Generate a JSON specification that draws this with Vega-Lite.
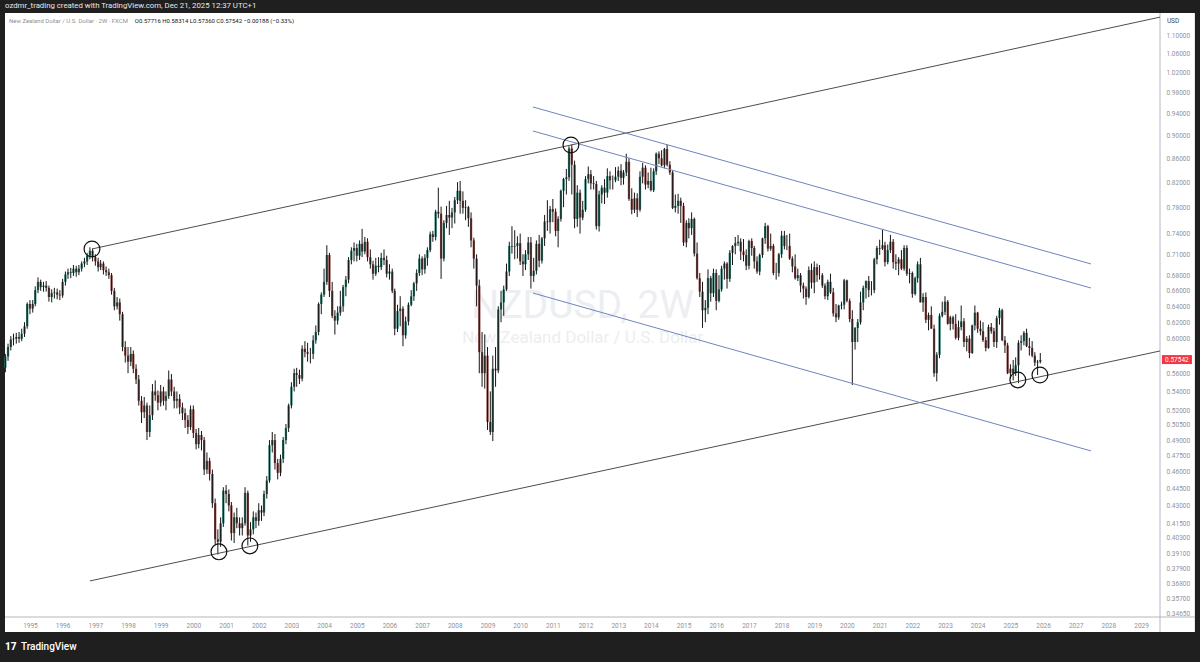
{
"$schema":"https://vega.github.io/schema/vega-lite/v6.json",
"width":1155,"height":604,
"autosize":{"type":"none"},
"padding":{"left":5,"top":13,"right":40,"bottom":45},
"background":"#1f1f1f",
"config":{"view":{"stroke":null},"font":"Roboto","axis":{"grid":false,"ticks":false,"labelFont":"Roboto","labelFontSize":6.5,"labelColor":"#8f929a","domain":false,"labelOverlap":false,"labelFlush":false}},
"datasets":{
"c":[
{"d":"1994-04","o":0.566,"h":0.582,"l":0.561,"c":0.579},
{"d":"1994-05","o":0.579,"h":0.594,"l":0.574,"c":0.590},
{"d":"1994-06","o":0.590,"h":0.603,"l":0.586,"c":0.599},
{"d":"1994-07","o":0.599,"h":0.606,"l":0.592,"c":0.600},
{"d":"1994-08","o":0.600,"h":0.607,"l":0.594,"c":0.602},
{"d":"1994-09","o":0.602,"h":0.608,"l":0.595,"c":0.600},
{"d":"1994-10","o":0.600,"h":0.612,"l":0.597,"c":0.606},
{"d":"1994-11","o":0.606,"h":0.620,"l":0.602,"c":0.615},
{"d":"1994-12","o":0.615,"h":0.645,"l":0.612,"c":0.643},
{"d":"1995-01","o":0.643,"h":0.648,"l":0.630,"c":0.637},
{"d":"1995-02","o":0.637,"h":0.648,"l":0.632,"c":0.643},
{"d":"1995-03","o":0.643,"h":0.666,"l":0.640,"c":0.661},
{"d":"1995-04","o":0.661,"h":0.678,"l":0.657,"c":0.672},
{"d":"1995-05","o":0.672,"h":0.675,"l":0.660,"c":0.665},
{"d":"1995-06","o":0.665,"h":0.672,"l":0.659,"c":0.667},
{"d":"1995-07","o":0.667,"h":0.673,"l":0.659,"c":0.664},
{"d":"1995-08","o":0.664,"h":0.667,"l":0.646,"c":0.652},
{"d":"1995-09","o":0.652,"h":0.662,"l":0.645,"c":0.657},
{"d":"1995-10","o":0.657,"h":0.664,"l":0.650,"c":0.658},
{"d":"1995-11","o":0.658,"h":0.663,"l":0.649,"c":0.655},
{"d":"1995-12","o":0.655,"h":0.661,"l":0.648,"c":0.654},
{"d":"1996-01","o":0.654,"h":0.676,"l":0.651,"c":0.672},
{"d":"1996-02","o":0.672,"h":0.686,"l":0.667,"c":0.682},
{"d":"1996-03","o":0.682,"h":0.690,"l":0.676,"c":0.685},
{"d":"1996-04","o":0.685,"h":0.691,"l":0.677,"c":0.684},
{"d":"1996-05","o":0.684,"h":0.695,"l":0.680,"c":0.690},
{"d":"1996-06","o":0.690,"h":0.694,"l":0.679,"c":0.685},
{"d":"1996-07","o":0.685,"h":0.695,"l":0.681,"c":0.690},
{"d":"1996-08","o":0.690,"h":0.700,"l":0.686,"c":0.697},
{"d":"1996-09","o":0.697,"h":0.705,"l":0.692,"c":0.700},
{"d":"1996-10","o":0.700,"h":0.712,"l":0.695,"c":0.708},
{"d":"1996-11","o":0.708,"h":0.720,"l":0.703,"c":0.715},
{"d":"1996-12","o":0.715,"h":0.718,"l":0.700,"c":0.706},
{"d":"1997-01","o":0.706,"h":0.710,"l":0.694,"c":0.700},
{"d":"1997-02","o":0.700,"h":0.705,"l":0.686,"c":0.692},
{"d":"1997-03","o":0.692,"h":0.702,"l":0.688,"c":0.697},
{"d":"1997-04","o":0.697,"h":0.700,"l":0.682,"c":0.688},
{"d":"1997-05","o":0.688,"h":0.693,"l":0.680,"c":0.685},
{"d":"1997-06","o":0.685,"h":0.690,"l":0.676,"c":0.681},
{"d":"1997-07","o":0.681,"h":0.684,"l":0.655,"c":0.660},
{"d":"1997-08","o":0.660,"h":0.664,"l":0.635,"c":0.640},
{"d":"1997-09","o":0.640,"h":0.652,"l":0.636,"c":0.645},
{"d":"1997-10","o":0.645,"h":0.650,"l":0.622,"c":0.630},
{"d":"1997-11","o":0.630,"h":0.633,"l":0.585,"c":0.590},
{"d":"1997-12","o":0.590,"h":0.597,"l":0.572,"c":0.580},
{"d":"1998-01","o":0.580,"h":0.590,"l":0.560,"c":0.573},
{"d":"1998-02","o":0.573,"h":0.590,"l":0.568,"c":0.582},
{"d":"1998-03","o":0.582,"h":0.586,"l":0.560,"c":0.565},
{"d":"1998-04","o":0.565,"h":0.570,"l":0.548,"c":0.553},
{"d":"1998-05","o":0.553,"h":0.558,"l":0.525,"c":0.530},
{"d":"1998-06","o":0.530,"h":0.535,"l":0.507,"c":0.518},
{"d":"1998-07","o":0.518,"h":0.534,"l":0.512,"c":0.525},
{"d":"1998-08","o":0.525,"h":0.528,"l":0.490,"c":0.498},
{"d":"1998-09","o":0.498,"h":0.525,"l":0.493,"c":0.515},
{"d":"1998-10","o":0.515,"h":0.548,"l":0.510,"c":0.540},
{"d":"1998-11","o":0.540,"h":0.552,"l":0.530,"c":0.536},
{"d":"1998-12","o":0.536,"h":0.541,"l":0.520,"c":0.528},
{"d":"1999-01","o":0.528,"h":0.547,"l":0.524,"c":0.540},
{"d":"1999-02","o":0.540,"h":0.545,"l":0.525,"c":0.530},
{"d":"1999-03","o":0.530,"h":0.540,"l":0.520,"c":0.535},
{"d":"1999-04","o":0.535,"h":0.563,"l":0.532,"c":0.553},
{"d":"1999-05","o":0.553,"h":0.559,"l":0.535,"c":0.540},
{"d":"1999-06","o":0.540,"h":0.545,"l":0.522,"c":0.530},
{"d":"1999-07","o":0.530,"h":0.540,"l":0.522,"c":0.532},
{"d":"1999-08","o":0.532,"h":0.537,"l":0.516,"c":0.523},
{"d":"1999-09","o":0.523,"h":0.528,"l":0.510,"c":0.517},
{"d":"1999-10","o":0.517,"h":0.522,"l":0.502,"c":0.510},
{"d":"1999-11","o":0.510,"h":0.515,"l":0.496,"c":0.503},
{"d":"1999-12","o":0.503,"h":0.525,"l":0.500,"c":0.521},
{"d":"2000-01","o":0.521,"h":0.525,"l":0.492,"c":0.497},
{"d":"2000-02","o":0.497,"h":0.501,"l":0.481,"c":0.486},
{"d":"2000-03","o":0.486,"h":0.502,"l":0.482,"c":0.495},
{"d":"2000-04","o":0.495,"h":0.499,"l":0.480,"c":0.490},
{"d":"2000-05","o":0.490,"h":0.493,"l":0.457,"c":0.462},
{"d":"2000-06","o":0.462,"h":0.478,"l":0.458,"c":0.470},
{"d":"2000-07","o":0.470,"h":0.473,"l":0.452,"c":0.458},
{"d":"2000-08","o":0.458,"h":0.462,"l":0.428,"c":0.432},
{"d":"2000-09","o":0.432,"h":0.436,"l":0.398,"c":0.402},
{"d":"2000-10","o":0.402,"h":0.410,"l":0.390,"c":0.400},
{"d":"2000-11","o":0.400,"h":0.420,"l":0.396,"c":0.415},
{"d":"2000-12","o":0.415,"h":0.446,"l":0.412,"c":0.443},
{"d":"2001-01","o":0.443,"h":0.448,"l":0.432,"c":0.440},
{"d":"2001-02","o":0.440,"h":0.444,"l":0.425,"c":0.430},
{"d":"2001-03","o":0.430,"h":0.433,"l":0.401,"c":0.407},
{"d":"2001-04","o":0.407,"h":0.424,"l":0.399,"c":0.420},
{"d":"2001-05","o":0.420,"h":0.428,"l":0.411,"c":0.415},
{"d":"2001-06","o":0.415,"h":0.420,"l":0.405,"c":0.411},
{"d":"2001-07","o":0.411,"h":0.420,"l":0.405,"c":0.415},
{"d":"2001-08","o":0.415,"h":0.446,"l":0.413,"c":0.441},
{"d":"2001-09","o":0.441,"h":0.443,"l":0.397,"c":0.405},
{"d":"2001-10","o":0.405,"h":0.416,"l":0.400,"c":0.410},
{"d":"2001-11","o":0.410,"h":0.425,"l":0.406,"c":0.420},
{"d":"2001-12","o":0.420,"h":0.424,"l":0.411,"c":0.417},
{"d":"2002-01","o":0.417,"h":0.432,"l":0.413,"c":0.426},
{"d":"2002-02","o":0.426,"h":0.430,"l":0.417,"c":0.424},
{"d":"2002-03","o":0.424,"h":0.443,"l":0.421,"c":0.440},
{"d":"2002-04","o":0.440,"h":0.456,"l":0.436,"c":0.452},
{"d":"2002-05","o":0.452,"h":0.490,"l":0.450,"c":0.485},
{"d":"2002-06","o":0.485,"h":0.498,"l":0.478,"c":0.490},
{"d":"2002-07","o":0.490,"h":0.496,"l":0.462,"c":0.468},
{"d":"2002-08","o":0.468,"h":0.472,"l":0.453,"c":0.459},
{"d":"2002-09","o":0.459,"h":0.476,"l":0.456,"c":0.472},
{"d":"2002-10","o":0.472,"h":0.493,"l":0.468,"c":0.490},
{"d":"2002-11","o":0.490,"h":0.506,"l":0.486,"c":0.502},
{"d":"2002-12","o":0.502,"h":0.527,"l":0.498,"c":0.525},
{"d":"2003-01","o":0.525,"h":0.550,"l":0.522,"c":0.545},
{"d":"2003-02","o":0.545,"h":0.565,"l":0.540,"c":0.560},
{"d":"2003-03","o":0.560,"h":0.566,"l":0.545,"c":0.558},
{"d":"2003-04","o":0.558,"h":0.564,"l":0.548,"c":0.554},
{"d":"2003-05","o":0.554,"h":0.592,"l":0.551,"c":0.588},
{"d":"2003-06","o":0.588,"h":0.597,"l":0.578,"c":0.584},
{"d":"2003-07","o":0.584,"h":0.595,"l":0.573,"c":0.582},
{"d":"2003-08","o":0.582,"h":0.589,"l":0.571,"c":0.582},
{"d":"2003-09","o":0.582,"h":0.604,"l":0.576,"c":0.598},
{"d":"2003-10","o":0.598,"h":0.616,"l":0.594,"c":0.608},
{"d":"2003-11","o":0.608,"h":0.645,"l":0.604,"c":0.643},
{"d":"2003-12","o":0.643,"h":0.658,"l":0.630,"c":0.655},
{"d":"2004-01","o":0.655,"h":0.690,"l":0.652,"c":0.672},
{"d":"2004-02","o":0.672,"h":0.723,"l":0.668,"c":0.709},
{"d":"2004-03","o":0.709,"h":0.712,"l":0.652,"c":0.660},
{"d":"2004-04","o":0.660,"h":0.672,"l":0.625,"c":0.628},
{"d":"2004-05","o":0.628,"h":0.635,"l":0.605,"c":0.622},
{"d":"2004-06","o":0.622,"h":0.640,"l":0.617,"c":0.632},
{"d":"2004-07","o":0.632,"h":0.660,"l":0.628,"c":0.640},
{"d":"2004-08","o":0.640,"h":0.668,"l":0.633,"c":0.665},
{"d":"2004-09","o":0.665,"h":0.680,"l":0.653,"c":0.675},
{"d":"2004-10","o":0.675,"h":0.706,"l":0.670,"c":0.702},
{"d":"2004-11","o":0.702,"h":0.720,"l":0.696,"c":0.715},
{"d":"2004-12","o":0.715,"h":0.727,"l":0.700,"c":0.719},
{"d":"2005-01","o":0.719,"h":0.725,"l":0.700,"c":0.708},
{"d":"2005-02","o":0.708,"h":0.730,"l":0.702,"c":0.725},
{"d":"2005-03","o":0.725,"h":0.747,"l":0.706,"c":0.714},
{"d":"2005-04","o":0.714,"h":0.735,"l":0.710,"c":0.728},
{"d":"2005-05","o":0.728,"h":0.733,"l":0.700,"c":0.706},
{"d":"2005-06","o":0.706,"h":0.717,"l":0.690,"c":0.696},
{"d":"2005-07","o":0.696,"h":0.701,"l":0.675,"c":0.683},
{"d":"2005-08","o":0.683,"h":0.705,"l":0.680,"c":0.694},
{"d":"2005-09","o":0.694,"h":0.706,"l":0.685,"c":0.692},
{"d":"2005-10","o":0.692,"h":0.712,"l":0.688,"c":0.705},
{"d":"2005-11","o":0.705,"h":0.717,"l":0.695,"c":0.702},
{"d":"2005-12","o":0.702,"h":0.708,"l":0.678,"c":0.683},
{"d":"2006-01","o":0.683,"h":0.696,"l":0.675,"c":0.686},
{"d":"2006-02","o":0.686,"h":0.690,"l":0.657,"c":0.660},
{"d":"2006-03","o":0.660,"h":0.663,"l":0.604,"c":0.612},
{"d":"2006-04","o":0.612,"h":0.642,"l":0.608,"c":0.634},
{"d":"2006-05","o":0.634,"h":0.653,"l":0.615,"c":0.637},
{"d":"2006-06","o":0.637,"h":0.640,"l":0.591,"c":0.604},
{"d":"2006-07","o":0.604,"h":0.627,"l":0.600,"c":0.621},
{"d":"2006-08","o":0.621,"h":0.645,"l":0.616,"c":0.642},
{"d":"2006-09","o":0.642,"h":0.661,"l":0.640,"c":0.653},
{"d":"2006-10","o":0.653,"h":0.672,"l":0.647,"c":0.670},
{"d":"2006-11","o":0.670,"h":0.689,"l":0.660,"c":0.684},
{"d":"2006-12","o":0.684,"h":0.710,"l":0.680,"c":0.704},
{"d":"2007-01","o":0.704,"h":0.707,"l":0.681,"c":0.689},
{"d":"2007-02","o":0.689,"h":0.710,"l":0.683,"c":0.705},
{"d":"2007-03","o":0.705,"h":0.720,"l":0.694,"c":0.716},
{"d":"2007-04","o":0.716,"h":0.743,"l":0.713,"c":0.739},
{"d":"2007-05","o":0.739,"h":0.744,"l":0.728,"c":0.735},
{"d":"2007-06","o":0.735,"h":0.776,"l":0.730,"c":0.773},
{"d":"2007-07","o":0.773,"h":0.811,"l":0.763,"c":0.770},
{"d":"2007-08","o":0.770,"h":0.781,"l":0.676,"c":0.704},
{"d":"2007-09","o":0.704,"h":0.760,"l":0.700,"c":0.756},
{"d":"2007-10","o":0.756,"h":0.782,"l":0.748,"c":0.768},
{"d":"2007-11","o":0.768,"h":0.790,"l":0.738,"c":0.764},
{"d":"2007-12","o":0.764,"h":0.779,"l":0.748,"c":0.772},
{"d":"2008-01","o":0.772,"h":0.796,"l":0.755,"c":0.791},
{"d":"2008-02","o":0.791,"h":0.820,"l":0.785,"c":0.806},
{"d":"2008-03","o":0.806,"h":0.822,"l":0.770,"c":0.790},
{"d":"2008-04","o":0.790,"h":0.805,"l":0.770,"c":0.779},
{"d":"2008-05","o":0.779,"h":0.791,"l":0.760,"c":0.780},
{"d":"2008-06","o":0.780,"h":0.782,"l":0.750,"c":0.763},
{"d":"2008-07","o":0.763,"h":0.772,"l":0.720,"c":0.730},
{"d":"2008-08","o":0.730,"h":0.734,"l":0.690,"c":0.704},
{"d":"2008-09","o":0.704,"h":0.710,"l":0.640,"c":0.667},
{"d":"2008-10","o":0.667,"h":0.675,"l":0.560,"c":0.584},
{"d":"2008-11","o":0.584,"h":0.608,"l":0.545,"c":0.560},
{"d":"2008-12","o":0.560,"h":0.605,"l":0.543,"c":0.580},
{"d":"2009-01","o":0.580,"h":0.590,"l":0.500,"c":0.508},
{"d":"2009-02","o":0.508,"h":0.540,"l":0.495,"c":0.498},
{"d":"2009-03","o":0.498,"h":0.580,"l":0.489,"c":0.565},
{"d":"2009-04","o":0.565,"h":0.590,"l":0.545,"c":0.563},
{"d":"2009-05","o":0.563,"h":0.640,"l":0.560,"c":0.636},
{"d":"2009-06","o":0.636,"h":0.660,"l":0.620,"c":0.645},
{"d":"2009-07","o":0.645,"h":0.667,"l":0.628,"c":0.662},
{"d":"2009-08","o":0.662,"h":0.697,"l":0.660,"c":0.686},
{"d":"2009-09","o":0.686,"h":0.728,"l":0.680,"c":0.722},
{"d":"2009-10","o":0.722,"h":0.751,"l":0.711,"c":0.721},
{"d":"2009-11","o":0.721,"h":0.745,"l":0.703,"c":0.722},
{"d":"2009-12","o":0.722,"h":0.736,"l":0.704,"c":0.726},
{"d":"2010-01","o":0.726,"h":0.740,"l":0.695,"c":0.700},
{"d":"2010-02","o":0.700,"h":0.710,"l":0.680,"c":0.696},
{"d":"2010-03","o":0.696,"h":0.716,"l":0.688,"c":0.710},
{"d":"2010-04","o":0.710,"h":0.735,"l":0.702,"c":0.727},
{"d":"2010-05","o":0.727,"h":0.735,"l":0.663,"c":0.680},
{"d":"2010-06","o":0.680,"h":0.705,"l":0.672,"c":0.687},
{"d":"2010-07","o":0.687,"h":0.730,"l":0.682,"c":0.725},
{"d":"2010-08","o":0.725,"h":0.738,"l":0.692,"c":0.701},
{"d":"2010-09","o":0.701,"h":0.735,"l":0.697,"c":0.733},
{"d":"2010-10","o":0.733,"h":0.768,"l":0.722,"c":0.758},
{"d":"2010-11","o":0.758,"h":0.791,"l":0.744,"c":0.757},
{"d":"2010-12","o":0.757,"h":0.782,"l":0.740,"c":0.777},
{"d":"2011-01","o":0.777,"h":0.793,"l":0.757,"c":0.773},
{"d":"2011-02","o":0.773,"h":0.778,"l":0.736,"c":0.744},
{"d":"2011-03","o":0.744,"h":0.766,"l":0.720,"c":0.762},
{"d":"2011-04","o":0.762,"h":0.808,"l":0.758,"c":0.806},
{"d":"2011-05","o":0.806,"h":0.827,"l":0.780,"c":0.825},
{"d":"2011-06","o":0.825,"h":0.842,"l":0.800,"c":0.828},
{"d":"2011-07","o":0.828,"h":0.881,"l":0.822,"c":0.877},
{"d":"2011-08","o":0.877,"h":0.884,"l":0.800,"c":0.849},
{"d":"2011-09","o":0.849,"h":0.856,"l":0.748,"c":0.762},
{"d":"2011-10","o":0.762,"h":0.815,"l":0.750,"c":0.803},
{"d":"2011-11","o":0.803,"h":0.808,"l":0.740,"c":0.764},
{"d":"2011-12","o":0.764,"h":0.790,"l":0.760,"c":0.776},
{"d":"2012-01","o":0.776,"h":0.830,"l":0.773,"c":0.825},
{"d":"2012-02","o":0.825,"h":0.846,"l":0.818,"c":0.833},
{"d":"2012-03","o":0.833,"h":0.840,"l":0.808,"c":0.818},
{"d":"2012-04","o":0.818,"h":0.830,"l":0.808,"c":0.817},
{"d":"2012-05","o":0.817,"h":0.822,"l":0.746,"c":0.751},
{"d":"2012-06","o":0.751,"h":0.806,"l":0.743,"c":0.800},
{"d":"2012-07","o":0.800,"h":0.815,"l":0.786,"c":0.811},
{"d":"2012-08","o":0.811,"h":0.825,"l":0.785,"c":0.803},
{"d":"2012-09","o":0.803,"h":0.843,"l":0.795,"c":0.830},
{"d":"2012-10","o":0.830,"h":0.838,"l":0.808,"c":0.823},
{"d":"2012-11","o":0.823,"h":0.831,"l":0.808,"c":0.823},
{"d":"2012-12","o":0.823,"h":0.845,"l":0.820,"c":0.829},
{"d":"2013-01","o":0.829,"h":0.846,"l":0.822,"c":0.839},
{"d":"2013-02","o":0.839,"h":0.850,"l":0.815,"c":0.827},
{"d":"2013-03","o":0.827,"h":0.840,"l":0.816,"c":0.836},
{"d":"2013-04","o":0.836,"h":0.868,"l":0.830,"c":0.854},
{"d":"2013-05","o":0.854,"h":0.860,"l":0.790,"c":0.793},
{"d":"2013-06","o":0.793,"h":0.810,"l":0.769,"c":0.776},
{"d":"2013-07","o":0.776,"h":0.803,"l":0.771,"c":0.794},
{"d":"2013-08","o":0.794,"h":0.802,"l":0.765,"c":0.776},
{"d":"2013-09","o":0.776,"h":0.838,"l":0.773,"c":0.829},
{"d":"2013-10","o":0.829,"h":0.852,"l":0.818,"c":0.844},
{"d":"2013-11","o":0.844,"h":0.848,"l":0.808,"c":0.816},
{"d":"2013-12","o":0.816,"h":0.836,"l":0.810,"c":0.822},
{"d":"2014-01","o":0.822,"h":0.844,"l":0.805,"c":0.807},
{"d":"2014-02","o":0.807,"h":0.843,"l":0.804,"c":0.838},
{"d":"2014-03","o":0.838,"h":0.870,"l":0.832,"c":0.868},
{"d":"2014-04","o":0.868,"h":0.872,"l":0.850,"c":0.860},
{"d":"2014-05","o":0.860,"h":0.874,"l":0.846,"c":0.848},
{"d":"2014-06","o":0.848,"h":0.878,"l":0.843,"c":0.876},
{"d":"2014-07","o":0.876,"h":0.884,"l":0.846,"c":0.849},
{"d":"2014-08","o":0.849,"h":0.855,"l":0.832,"c":0.836},
{"d":"2014-09","o":0.836,"h":0.839,"l":0.777,"c":0.779},
{"d":"2014-10","o":0.779,"h":0.800,"l":0.772,"c":0.782},
{"d":"2014-11","o":0.782,"h":0.801,"l":0.770,"c":0.790},
{"d":"2014-12","o":0.790,"h":0.795,"l":0.756,"c":0.782},
{"d":"2015-01","o":0.782,"h":0.787,"l":0.722,"c":0.727},
{"d":"2015-02","o":0.727,"h":0.760,"l":0.720,"c":0.756},
{"d":"2015-03","o":0.756,"h":0.763,"l":0.733,"c":0.748},
{"d":"2015-04","o":0.748,"h":0.772,"l":0.738,"c":0.762},
{"d":"2015-05","o":0.762,"h":0.764,"l":0.707,"c":0.711},
{"d":"2015-06","o":0.711,"h":0.727,"l":0.675,"c":0.677},
{"d":"2015-07","o":0.677,"h":0.684,"l":0.652,"c":0.659},
{"d":"2015-08","o":0.659,"h":0.672,"l":0.613,"c":0.635},
{"d":"2015-09","o":0.635,"h":0.648,"l":0.620,"c":0.638},
{"d":"2015-10","o":0.638,"h":0.689,"l":0.630,"c":0.677},
{"d":"2015-11","o":0.677,"h":0.680,"l":0.646,"c":0.657},
{"d":"2015-12","o":0.657,"h":0.690,"l":0.652,"c":0.684},
{"d":"2016-01","o":0.684,"h":0.689,"l":0.635,"c":0.647},
{"d":"2016-02","o":0.647,"h":0.681,"l":0.645,"c":0.662},
{"d":"2016-03","o":0.662,"h":0.694,"l":0.659,"c":0.690},
{"d":"2016-04","o":0.690,"h":0.700,"l":0.675,"c":0.697},
{"d":"2016-05","o":0.697,"h":0.699,"l":0.663,"c":0.676},
{"d":"2016-06","o":0.676,"h":0.716,"l":0.672,"c":0.712},
{"d":"2016-07","o":0.712,"h":0.723,"l":0.695,"c":0.722},
{"d":"2016-08","o":0.722,"h":0.735,"l":0.710,"c":0.726},
{"d":"2016-09","o":0.726,"h":0.738,"l":0.722,"c":0.728},
{"d":"2016-10","o":0.728,"h":0.733,"l":0.702,"c":0.714},
{"d":"2016-11","o":0.714,"h":0.732,"l":0.700,"c":0.709},
{"d":"2016-12","o":0.709,"h":0.717,"l":0.688,"c":0.694},
{"d":"2017-01","o":0.694,"h":0.731,"l":0.689,"c":0.729},
{"d":"2017-02","o":0.729,"h":0.733,"l":0.708,"c":0.719},
{"d":"2017-03","o":0.719,"h":0.722,"l":0.690,"c":0.700},
{"d":"2017-04","o":0.700,"h":0.707,"l":0.683,"c":0.686},
{"d":"2017-05","o":0.686,"h":0.711,"l":0.681,"c":0.709},
{"d":"2017-06","o":0.709,"h":0.734,"l":0.705,"c":0.733},
{"d":"2017-07","o":0.733,"h":0.756,"l":0.725,"c":0.751},
{"d":"2017-08","o":0.751,"h":0.753,"l":0.714,"c":0.718},
{"d":"2017-09","o":0.718,"h":0.740,"l":0.715,"c":0.722},
{"d":"2017-10","o":0.722,"h":0.725,"l":0.681,"c":0.684},
{"d":"2017-11","o":0.684,"h":0.698,"l":0.675,"c":0.684},
{"d":"2017-12","o":0.684,"h":0.712,"l":0.679,"c":0.710},
{"d":"2018-01","o":0.710,"h":0.744,"l":0.705,"c":0.737},
{"d":"2018-02","o":0.737,"h":0.744,"l":0.717,"c":0.722},
{"d":"2018-03","o":0.722,"h":0.738,"l":0.716,"c":0.722},
{"d":"2018-04","o":0.722,"h":0.740,"l":0.702,"c":0.704},
{"d":"2018-05","o":0.704,"h":0.707,"l":0.685,"c":0.693},
{"d":"2018-06","o":0.693,"h":0.710,"l":0.675,"c":0.677},
{"d":"2018-07","o":0.677,"h":0.690,"l":0.673,"c":0.681},
{"d":"2018-08","o":0.681,"h":0.684,"l":0.658,"c":0.667},
{"d":"2018-09","o":0.667,"h":0.671,"l":0.650,"c":0.663},
{"d":"2018-10","o":0.663,"h":0.666,"l":0.642,"c":0.652},
{"d":"2018-11","o":0.652,"h":0.693,"l":0.650,"c":0.688},
{"d":"2018-12","o":0.688,"h":0.697,"l":0.663,"c":0.671},
{"d":"2019-01","o":0.671,"h":0.700,"l":0.657,"c":0.692},
{"d":"2019-02","o":0.692,"h":0.697,"l":0.672,"c":0.681},
{"d":"2019-03","o":0.681,"h":0.695,"l":0.675,"c":0.681},
{"d":"2019-04","o":0.681,"h":0.684,"l":0.664,"c":0.667},
{"d":"2019-05","o":0.667,"h":0.670,"l":0.649,"c":0.653},
{"d":"2019-06","o":0.653,"h":0.675,"l":0.648,"c":0.672},
{"d":"2019-07","o":0.672,"h":0.683,"l":0.656,"c":0.658},
{"d":"2019-08","o":0.658,"h":0.664,"l":0.627,"c":0.631},
{"d":"2019-09","o":0.631,"h":0.643,"l":0.620,"c":0.626},
{"d":"2019-10","o":0.626,"h":0.642,"l":0.623,"c":0.641},
{"d":"2019-11","o":0.641,"h":0.646,"l":0.636,"c":0.642},
{"d":"2019-12","o":0.642,"h":0.676,"l":0.636,"c":0.674},
{"d":"2020-01","o":0.674,"h":0.675,"l":0.645,"c":0.647},
{"d":"2020-02","o":0.647,"h":0.650,"l":0.620,"c":0.624},
{"d":"2020-03","o":0.624,"h":0.635,"l":0.547,"c":0.596},
{"d":"2020-04","o":0.596,"h":0.614,"l":0.587,"c":0.613},
{"d":"2020-05","o":0.613,"h":0.624,"l":0.596,"c":0.620},
{"d":"2020-06","o":0.620,"h":0.659,"l":0.617,"c":0.645},
{"d":"2020-07","o":0.645,"h":0.667,"l":0.635,"c":0.664},
{"d":"2020-08","o":0.664,"h":0.674,"l":0.650,"c":0.673},
{"d":"2020-09","o":0.673,"h":0.680,"l":0.652,"c":0.661},
{"d":"2020-10","o":0.661,"h":0.673,"l":0.654,"c":0.661},
{"d":"2020-11","o":0.661,"h":0.705,"l":0.657,"c":0.703},
{"d":"2020-12","o":0.703,"h":0.722,"l":0.696,"c":0.719},
{"d":"2021-01","o":0.719,"h":0.731,"l":0.709,"c":0.718},
{"d":"2021-02","o":0.718,"h":0.746,"l":0.716,"c":0.723},
{"d":"2021-03","o":0.723,"h":0.728,"l":0.693,"c":0.699},
{"d":"2021-04","o":0.699,"h":0.724,"l":0.696,"c":0.716},
{"d":"2021-05","o":0.716,"h":0.738,"l":0.712,"c":0.728},
{"d":"2021-06","o":0.728,"h":0.732,"l":0.690,"c":0.699},
{"d":"2021-07","o":0.699,"h":0.710,"l":0.688,"c":0.697},
{"d":"2021-08","o":0.697,"h":0.706,"l":0.681,"c":0.703},
{"d":"2021-09","o":0.703,"h":0.716,"l":0.688,"c":0.690},
{"d":"2021-10","o":0.690,"h":0.723,"l":0.687,"c":0.719},
{"d":"2021-11","o":0.719,"h":0.723,"l":0.680,"c":0.683},
{"d":"2021-12","o":0.683,"h":0.690,"l":0.670,"c":0.684},
{"d":"2022-01","o":0.684,"h":0.686,"l":0.651,"c":0.656},
{"d":"2022-02","o":0.656,"h":0.679,"l":0.654,"c":0.677},
{"d":"2022-03","o":0.677,"h":0.700,"l":0.671,"c":0.696},
{"d":"2022-04","o":0.696,"h":0.705,"l":0.645,"c":0.645},
{"d":"2022-05","o":0.645,"h":0.657,"l":0.633,"c":0.652},
{"d":"2022-06","o":0.652,"h":0.658,"l":0.619,"c":0.623},
{"d":"2022-07","o":0.623,"h":0.632,"l":0.610,"c":0.629},
{"d":"2022-08","o":0.629,"h":0.640,"l":0.612,"c":0.612},
{"d":"2022-09","o":0.612,"h":0.617,"l":0.556,"c":0.560},
{"d":"2022-10","o":0.560,"h":0.584,"l":0.551,"c":0.581},
{"d":"2022-11","o":0.581,"h":0.631,"l":0.577,"c":0.628},
{"d":"2022-12","o":0.628,"h":0.646,"l":0.626,"c":0.633},
{"d":"2023-01","o":0.633,"h":0.653,"l":0.629,"c":0.646},
{"d":"2023-02","o":0.646,"h":0.648,"l":0.617,"c":0.618},
{"d":"2023-03","o":0.618,"h":0.628,"l":0.610,"c":0.626},
{"d":"2023-04","o":0.626,"h":0.628,"l":0.611,"c":0.618},
{"d":"2023-05","o":0.618,"h":0.630,"l":0.599,"c":0.601},
{"d":"2023-06","o":0.601,"h":0.622,"l":0.598,"c":0.614},
{"d":"2023-07","o":0.614,"h":0.641,"l":0.610,"c":0.621},
{"d":"2023-08","o":0.621,"h":0.625,"l":0.590,"c":0.596},
{"d":"2023-09","o":0.596,"h":0.603,"l":0.585,"c":0.600},
{"d":"2023-10","o":0.600,"h":0.604,"l":0.577,"c":0.583},
{"d":"2023-11","o":0.583,"h":0.617,"l":0.582,"c":0.616},
{"d":"2023-12","o":0.616,"h":0.641,"l":0.610,"c":0.632},
{"d":"2024-01","o":0.632,"h":0.633,"l":0.607,"c":0.612},
{"d":"2024-02","o":0.612,"h":0.622,"l":0.604,"c":0.609},
{"d":"2024-03","o":0.609,"h":0.620,"l":0.596,"c":0.598},
{"d":"2024-04","o":0.598,"h":0.602,"l":0.585,"c":0.589},
{"d":"2024-05","o":0.589,"h":0.617,"l":0.588,"c":0.614},
{"d":"2024-06","o":0.614,"h":0.619,"l":0.606,"c":0.609},
{"d":"2024-07","o":0.609,"h":0.613,"l":0.590,"c":0.596},
{"d":"2024-08","o":0.596,"h":0.628,"l":0.589,"c":0.625},
{"d":"2024-09","o":0.625,"h":0.638,"l":0.617,"c":0.635},
{"d":"2024-10","o":0.635,"h":0.637,"l":0.597,"c":0.598},
{"d":"2024-11","o":0.598,"h":0.603,"l":0.583,"c":0.592},
{"d":"2024-12","o":0.592,"h":0.595,"l":0.559,"c":0.560},
{"d":"2025-01","o":0.560,"h":0.570,"l":0.554,"c":0.565},
{"d":"2025-02","o":0.565,"h":0.575,"l":0.552,"c":0.560},
{"d":"2025-03","o":0.560,"h":0.578,"l":0.557,"c":0.569},
{"d":"2025-04","o":0.569,"h":0.598,"l":0.549,"c":0.595},
{"d":"2025-05","o":0.595,"h":0.604,"l":0.586,"c":0.597},
{"d":"2025-06","o":0.597,"h":0.609,"l":0.592,"c":0.607},
{"d":"2025-07","o":0.607,"h":0.612,"l":0.590,"c":0.591},
{"d":"2025-08","o":0.591,"h":0.601,"l":0.580,"c":0.589},
{"d":"2025-09","o":0.589,"h":0.597,"l":0.578,"c":0.580},
{"d":"2025-10","o":0.580,"h":0.584,"l":0.568,"c":0.572},
{"d":"2025-11","o":0.572,"h":0.575,"l":0.558,"c":0.573},
{"d":"2025-12","o":0.573,"h":0.583,"l":0.571,"c":0.575}
],
"lines":[
{"id":"a","k":"trend","d":"1996-11-24","p":0.7176},
{"id":"a","k":"trend","d":"2029-07-31","p":1.140},
{"id":"b","k":"trend","d":"1996-11-01","p":0.3699},
{"id":"b","k":"trend","d":"2029-07-31","p":0.5854},
{"id":"c","k":"channel","d":"2010-05-23","p":0.9528},
{"id":"c","k":"channel","d":"2027-06-20","p":0.6965},
{"id":"e","k":"channel","d":"2010-05-23","p":0.9082},
{"id":"e","k":"channel","d":"2027-06-20","p":0.6638},
{"id":"f","k":"channel","d":"2010-05-23","p":0.6572},
{"id":"f","k":"channel","d":"2027-06-20","p":0.4795}
],
"circles":[
{"d":"1996-11-24","p":0.7176},
{"d":"2011-07-22","p":0.8831},
{"d":"2000-10-13","p":0.392},
{"d":"2001-09-24","p":0.3967},
{"d":"2025-03-25","p":0.5525},
{"d":"2025-11-27","p":0.558}
]
},
"layer":[
{"data":{"values":[{"x1":"1994-03-28","x2":"2030-08-25","y1":0.3341,"y2":1.1494}]},
 "mark":{"type":"rect","color":"#ffffff"},
 "encoding":{
  "x":{"field":"x1","type":"temporal","title":null,
   "scale":{"domain":[{"year":1994,"month":3,"date":28,"utc":true},{"year":2029,"month":7,"date":31,"utc":true}],"padding":0,"nice":false},
   "axis":{"orient":"bottom","format":"%Y","tickCount":{"interval":"year","step":1},"labelPadding":5,"labelBaseline":"top","labelAlign":"center","zindex":1,"title":null}},
  "x2":{"field":"x2"},
  "y":{"field":"y1","type":"quantitative","title":null,
   "scale":{"type":"log","domain":[0.3442,1.1494],"nice":false,"zero":false,"padding":0},
   "axis":{"orient":"right","format":".5f","labelPadding":6,"labelAlign":"left","labelBaseline":"middle","zindex":1,"title":null,
    "values":[1.1,1.06,1.02,0.98,0.94,0.9,0.86,0.82,0.78,0.74,0.71,0.68,0.66,0.64,0.62,0.6,0.56,0.54,0.52,0.505,0.49,0.475,0.46,0.445,0.43,0.415,0.403,0.391,0.379,0.368,0.357,0.3465]}},
  "y2":{"field":"y2"}}},
{"data":{"values":[{"x1":"1994-03-28","x2":"2030-08-25","y1":0.3442}]},
 "mark":{"type":"rule","color":"#b4b7be","strokeWidth":1},
 "encoding":{"x":{"field":"x1","type":"temporal","title":null},"x2":{"field":"x2"},"y":{"field":"y1","type":"quantitative","title":null}}},
{"data":{"values":[{"x1":"2029-07-31","y1":0.3341,"y2":1.1494}]},
 "mark":{"type":"rule","color":"#b4b7be","strokeWidth":1},
 "encoding":{"x":{"field":"x1","type":"temporal","title":null},"y":{"field":"y1","type":"quantitative","title":null},"y2":{"field":"y2"}}},
{"data":{"values":[{"d":"2011-12-01","p":0.6253,"t":"NZDUSD, 2W"}]},
 "mark":{"type":"text","fontSize":39,"color":"#eceef1","align":"center","baseline":"alphabetic","font":"Roboto"},
 "encoding":{"x":{"field":"d","type":"temporal","title":null},"y":{"field":"p","type":"quantitative","title":null},"text":{"field":"t"}}},
{"data":{"values":[{"d":"2011-12-01","p":0.5948,"t":"New Zealand Dollar / U.S. Dollar"}]},
 "mark":{"type":"text","fontSize":17,"color":"#eceef1","align":"center","baseline":"alphabetic","font":"Roboto"},
 "encoding":{"x":{"field":"d","type":"temporal","title":null},"y":{"field":"p","type":"quantitative","title":null},"text":{"field":"t"}}},
{"data":{"name":"c"},
 "mark":{"type":"bar","width":2.3},
 "encoding":{"x":{"field":"d","type":"temporal","title":null},"y":{"field":"o","type":"quantitative","title":null},"y2":{"field":"c"},
  "color":{"condition":{"test":"datum.c >= datum.o","value":"#2a7a6e"},"value":"#8a4744"}}},
{"data":{"name":"c"},
 "mark":{"type":"rule","color":"#161616","strokeWidth":1},
 "encoding":{"x":{"field":"d","type":"temporal","title":null},"y":{"field":"l","type":"quantitative","title":null},"y2":{"field":"h"}}},
{"data":{"name":"lines"},
 "mark":{"type":"line","strokeWidth":1},
 "encoding":{"x":{"field":"d","type":"temporal","title":null},"y":{"field":"p","type":"quantitative","title":null},"detail":{"field":"id"},
  "color":{"field":"k","type":"nominal","scale":{"domain":["trend","channel"],"range":["#4d4d4d","#6d84bd"]},"legend":null}}},
{"data":{"name":"circles"},
 "mark":{"type":"point","shape":"circle","filled":false,"size":250,"color":"#111111","strokeWidth":1.2,"opacity":1},
 "encoding":{"x":{"field":"d","type":"temporal","title":null},"y":{"field":"p","type":"quantitative","title":null}}},
{"data":{"values":[{"d":"1994-05-11","p":1.1311,"t":"New Zealand Dollar / U.S. Dollar · 2W · FXCM"}]},
 "mark":{"type":"text","fontSize":6,"color":"#8c8f98","align":"left","baseline":"middle","font":"Roboto"},
 "encoding":{"x":{"field":"d","type":"temporal","title":null},"y":{"field":"p","type":"quantitative","title":null},"text":{"field":"t"}}},
{"data":{"values":[{"d":"1998-03-18","p":1.1311,"t":"O0.57716  H0.58314  L0.57360  C0.57542  −0.00188 (−0.33%)"}]},
 "mark":{"type":"text","fontSize":6,"color":"#131722","align":"left","baseline":"middle","font":"Roboto"},
 "encoding":{"x":{"field":"d","type":"temporal","title":null},"y":{"field":"p","type":"quantitative","title":null},"text":{"field":"t"}}},
{"data":{"values":[{"d":"1994-03-28","p":1.1656,"t":"ozdmr_trading created with TradingView.com, Dec 21, 2025 12:37 UTC+1"}]},
 "mark":{"type":"text","fontSize":7.8,"color":"#e8e8e8","align":"left","baseline":"middle","font":"Roboto"},
 "encoding":{"x":{"field":"d","type":"temporal","title":null},"y":{"field":"p","type":"quantitative","title":null},"text":{"field":"t"}}},
{"data":{"values":[{"d":"1994-03-28","p":0.3242,"t":"17"}]},
 "mark":{"type":"text","fontSize":10,"fontWeight":800,"color":"#ffffff","align":"left","baseline":"middle","font":"Roboto"},
 "encoding":{"x":{"field":"d","type":"temporal","title":null},"y":{"field":"p","type":"quantitative","title":null},"text":{"field":"t"}}},
{"data":{"values":[{"d":"1994-09-22","p":0.3242,"t":"TradingView"}]},
 "mark":{"type":"text","fontSize":10,"fontWeight":500,"color":"#ffffff","align":"left","baseline":"middle","font":"Roboto"},
 "encoding":{"x":{"field":"d","type":"temporal","title":null},"y":{"field":"p","type":"quantitative","title":null},"text":{"field":"t"}}},
{"data":{"values":[{"x1":"2029-08-21","x2":"2030-07-23","y1":0.5703,"y2":0.5806}]},
 "mark":{"type":"rect","color":"#f23645"},
 "encoding":{"x":{"field":"x1","type":"temporal","title":null},"x2":{"field":"x2"},"y":{"field":"y1","type":"quantitative","title":null},"y2":{"field":"y2"}}},
{"data":{"values":[{"d":"2030-02-05","p":0.57542,"t":"0.57542"}]},
 "mark":{"type":"text","fontSize":6.5,"color":"#ffffff","align":"center","baseline":"middle","font":"Roboto"},
 "encoding":{"x":{"field":"d","type":"temporal","title":null},"y":{"field":"p","type":"quantitative","title":null},"text":{"field":"t"}}},
{"data":{"values":[{"d":"2029-10-16","p":1.1311,"t":"USD"}]},
 "mark":{"type":"text","fontSize":6.5,"color":"#434651","align":"left","baseline":"middle","font":"Roboto"},
 "encoding":{"x":{"field":"d","type":"temporal","title":null},"y":{"field":"p","type":"quantitative","title":null},"text":{"field":"t"}}}
]
}
